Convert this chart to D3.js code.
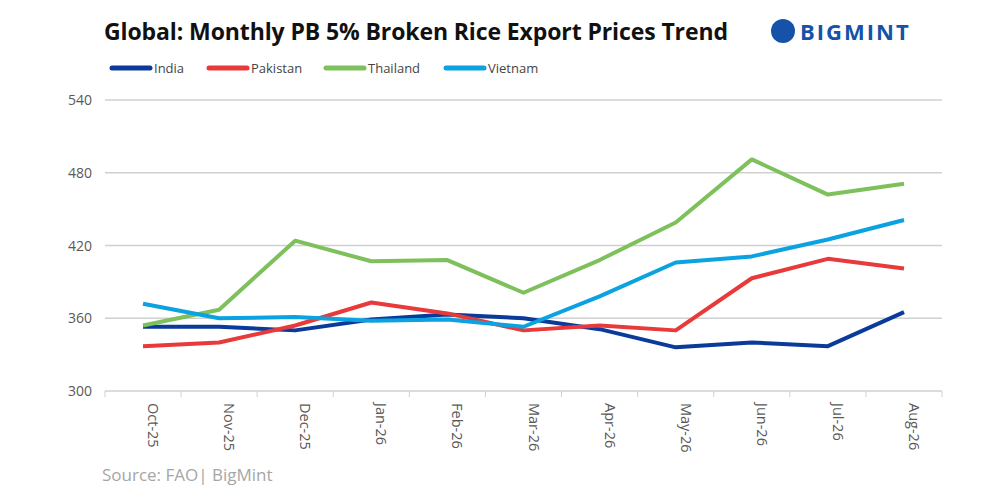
<!DOCTYPE html><html><head><meta charset="utf-8">
<script src="https://cdn.jsdelivr.net/npm/d3@7"></script>
<style>body{margin:0;background:#fff}text{font-family:"Open Sans",Calibri,sans-serif}</style></head><body>
<svg id="c" width="1000" height="500"></svg>
<script>
const months=["Oct-25","Nov-25","Dec-25","Jan-26","Feb-26","Mar-26","Apr-26","May-26","Jun-26","Jul-26","Aug-26"];
const india=[353,353,350,359,363,360,351,336,340,337,365];
const pakistan=[337,340,354,373,364,350,354,350,393,409,401];
const thailand=[354,367,424,407,408,381,408,439,491,462,471];
const vietnam=[372,360,361,358,359,353,378,406,411,425,441];
const yTicks=[300,360,420,480,540];
const series=[["India",india,"#0a3a9a"],["Pakistan",pakistan,"#e83a3a"],["Thailand",thailand,"#7dc05c"],["Vietnam",vietnam,"#0aa2e0"]];
const svg=d3.select("#c");
const x=d3.scalePoint().domain(months).range([143,904]);
const y=d3.scaleLinear().domain([300,540]).range([391,100]);
svg.append("g").selectAll("line").data(yTicks.slice(1)).join("line")
 .attr("x1",105).attr("x2",942).attr("y1",d=>y(d)).attr("y2",d=>y(d)).attr("stroke","#d0d0d0").attr("stroke-width",1.5);
svg.append("line").attr("x1",105).attr("x2",942).attr("y1",y(300)).attr("y2",y(300)).attr("stroke","#d0d0d0").attr("stroke-width",1.5);
const step=x.step();
svg.append("g").selectAll("line").data(d3.range(months.length+1)).join("line")
 .attr("x1",i=>143-step/2+i*step).attr("x2",i=>143-step/2+i*step).attr("y1",y(300)).attr("y2",y(300)+6).attr("stroke","#d0d0d0");
svg.append("g").selectAll("text").data(yTicks).join("text").attr("x",92).attr("y",d=>y(d)+5).attr("text-anchor","end")
 .attr("font-size",14).attr("fill","#595959").text(d=>d);
svg.append("g").selectAll("text").data(months).join("text")
 .attr("transform",d=>`translate(${x(d)+5},403) rotate(90)`).attr("font-size",14.5).attr("fill","#595959").text(d=>d);
const line=d3.line().x((d,i)=>x(months[i])).y(d=>y(d));
series.forEach(([n,v,c])=>svg.append("path").attr("d",line(v)).attr("fill","none").attr("stroke",c).attr("stroke-width",4).attr("stroke-linejoin","round"));
svg.append("text").attr("x",104).attr("y",40).attr("font-size",23).attr("font-weight","bold").attr("font-family","Roboto Condensed,Liberation Sans Narrow,Roboto,sans-serif").attr("fill","#111").attr("textLength",624).text("Global: Monthly PB 5% Broken Rice Export Prices Trend");
const lx=[108,205,322,442];
series.forEach(([n,v,c],i)=>{svg.append("line").attr("x1",lx[i]+4).attr("x2",lx[i]+42).attr("y1",68).attr("y2",68).attr("stroke",c).attr("stroke-width",5).attr("stroke-linecap","round");
 svg.append("text").attr("x",lx[i]+46).attr("y",73).attr("font-size",13).attr("fill","#444").text(n);});
svg.append("circle").attr("cx",783).attr("cy",31).attr("r",12).attr("fill","#1652a8");
svg.append("text").attr("x",800).attr("y",40).attr("font-size",22).attr("font-weight","bold").attr("fill","#1652a8").attr("letter-spacing",2).text("BIGMINT");
svg.append("text").attr("x",102).attr("y",481).attr("font-size",17).attr("fill","#a6a6a6").text("Source: FAO| BigMint");
</script></body></html>
